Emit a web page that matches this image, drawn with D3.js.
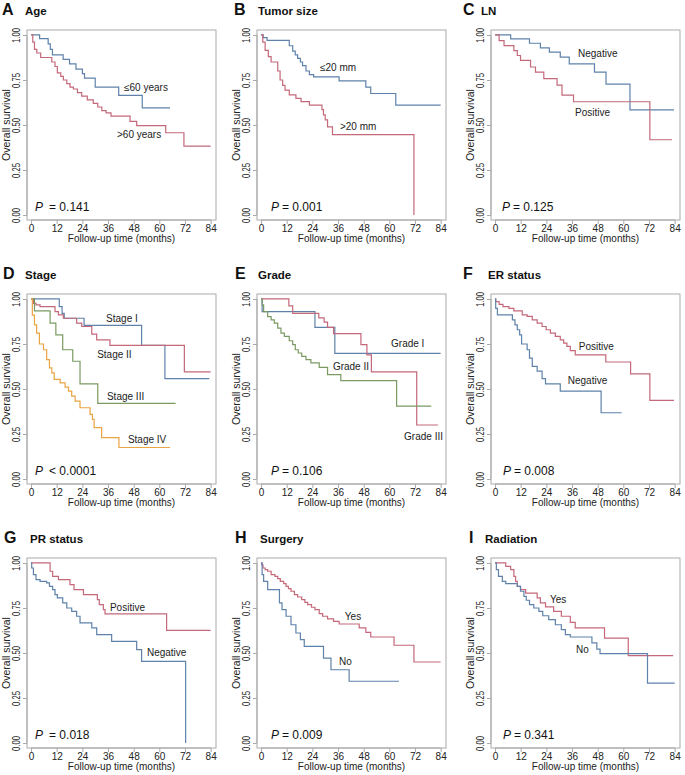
<!DOCTYPE html>
<html><head><meta charset="utf-8">
<script src="https://cdn.jsdelivr.net/npm/d3@7"></script>
<style>
body{margin:0;background:#fff;}
text{font-family:"Liberation Sans",Arial,sans-serif;}
</style></head>
<body><svg id="c" width="685" height="775"></svg>
<script>
// ---------- data ----------
const xTicks = [0,12,24,36,48,60,72,84];
const yTicks = [0,0.25,0.5,0.75,1];
const yTickLabels = ["0.00","0.25","0.50","0.75","1.00"];
const panelLetters = ["A","B","C","D","E","F","G","H","I"];
const panelTitles = ["Age","Tumor size","LN","Stage","Grade","ER status","PR status","Surgery","Radiation"];
const pValues = ["0.141","0.001","0.125","0.0001","0.106","0.008","0.018","0.009","0.341"];
const pOps = ["=","=","=","<","=","=","=","=","="];

// step survival curves: [time, survival from that time]
const ageLe60 = [[0,1],[4,0.98],[8,0.95],[9,0.92],[10,0.89],[15,0.865],[18,0.84],[21,0.81],[24,0.785],[25,0.76],[30,0.71],[41,0.665],[52,0.595]];
const ageGt60 = [[0,1],[0.8,0.96],[1.6,0.92],[2.7,0.90],[4.5,0.875],[9.7,0.85],[11.2,0.825],[12.3,0.79],[13.9,0.77],[15.1,0.75],[16.7,0.73],[18.2,0.71],[19.8,0.70],[21.7,0.68],[23.7,0.66],[26.3,0.64],[29.1,0.62],[31.2,0.60],[33.1,0.58],[35.1,0.567],[37.4,0.549],[46.3,0.52],[49.4,0.497],[63,0.457],[71.5,0.383]];
const sizeLe20 = [[0,1],[1,0.985],[2.8,0.97],[13.2,0.94],[14.8,0.91],[16,0.89],[17.1,0.87],[18.4,0.85],[19.4,0.83],[21,0.80],[22.6,0.78],[24.6,0.767],[36.5,0.745],[49,0.71],[51.3,0.675],[63,0.61]];
const sizeGt20 = [[0,1],[0.8,0.96],[1.9,0.915],[3.4,0.88],[4.7,0.85],[7.8,0.80],[8.9,0.75],[10.1,0.72],[11.2,0.694],[13.2,0.667],[16.3,0.648],[18.7,0.63],[22.6,0.61],[28.5,0.585],[29.2,0.556],[30,0.528],[31.1,0.49],[33.4,0.446],[71.5,0]];
const lnNeg = [[0,1],[7.3,0.978],[16.1,0.954],[21.2,0.928],[25.4,0.905],[30.5,0.877],[34.7,0.84],[46.5,0.794],[51.9,0.727],[63.1,0.584]];
const lnPos = [[0,1],[1.9,0.969],[4.2,0.941],[8.8,0.913],[10.4,0.886],[11.9,0.859],[16.6,0.822],[18.9,0.794],[22.8,0.758],[29,0.721],[31.3,0.666],[36.7,0.629],[72.4,0.418]];
const stageI = [[0,1],[13.2,0.958],[14.5,0.92],[15.5,0.893],[24.8,0.853],[51.7,0.742],[62.6,0.558]];
const stageII = [[0,1],[1.1,0.976],[2.3,0.967],[4.2,0.958],[11.2,0.93],[12.8,0.912],[15.1,0.893],[21.3,0.866],[23.7,0.847],[28.4,0.805],[30.7,0.773],[36.9,0.742],[71.7,0.595]];
const stageIII = [[0,1],[1.6,0.934],[8.9,0.866],[11.6,0.801],[14.8,0.718],[19.5,0.654],[22.9,0.529],[31.2,0.42]];
const stageIV = [[0,1],[0.6,0.91],[1.6,0.856],[2.6,0.81],[3.9,0.75],[5.8,0.718],[7.3,0.663],[8.6,0.617],[9.7,0.59],[10.8,0.553],[13.6,0.534],[15.9,0.51],[17.5,0.488],[19,0.46],[20.6,0.433],[22.9,0.396],[27.6,0.359],[28.7,0.331],[29.5,0.285],[33,0.23],[41.1,0.175]];
const gradeI = [[0,1],[0.5,0.93],[25.2,0.842],[34.5,0.698]];
const gradeII = [[0,1],[13,0.962],[14.8,0.92],[27,0.895],[29.5,0.871],[31.1,0.842],[33.9,0.808],[46.7,0.746],[49.5,0.69],[51.6,0.595],[72.8,0.30]];
const gradeIII = [[0,1],[0.5,0.967],[1.2,0.93],[3.1,0.902],[4.7,0.884],[6.2,0.866],[7.8,0.838],[9.3,0.81],[10.9,0.792],[13.2,0.768],[14.8,0.746],[16,0.718],[17.4,0.70],[19,0.681],[21,0.663],[23.3,0.645],[27.2,0.62],[31.1,0.58],[37.3,0.547],[63.4,0.405]];
const erPos = [[0,1],[0.3,0.985],[1.9,0.97],[3.7,0.958],[6.5,0.948],[8.8,0.934],[12.7,0.912],[15,0.903],[17.4,0.884],[19.7,0.866],[22,0.847],[23.9,0.829],[25.9,0.81],[28.2,0.792],[30.5,0.773],[32.1,0.755],[33.6,0.737],[35.2,0.713],[37.5,0.69],[51.8,0.65],[63.4,0.584],[72.4,0.437]];
const erNeg = [[0,1],[0.3,0.948],[1.1,0.912],[8.1,0.884],[9.3,0.856],[10.4,0.829],[11.5,0.801],[12.4,0.75],[15,0.718],[16.1,0.672],[17.4,0.626],[19.7,0.599],[22,0.558],[23.6,0.529],[30.5,0.488],[49.6,0.368]];
const prPos = [[0,1],[8.9,0.954],[10.1,0.926],[12.8,0.907],[18.2,0.88],[20.1,0.852],[24.5,0.824],[31,0.796],[31.9,0.769],[33.8,0.741],[34.6,0.717],[63.4,0.626]];
const prNeg = [[0,1],[0.3,0.972],[1.1,0.935],[2.3,0.907],[4.2,0.898],[7.3,0.889],[8.6,0.87],[10.1,0.852],[11.2,0.824],[12.3,0.806],[14.8,0.778],[16.7,0.75],[19,0.731],[21.3,0.704],[22.9,0.667],[28.4,0.639],[30.7,0.602],[37.7,0.565],[49.4,0.519],[51.7,0.454],[72.3,0]];
const surgYes = [[0,1],[0.3,0.99],[0.9,0.972],[1.9,0.963],[3.1,0.954],[4.7,0.935],[6.5,0.926],[7.8,0.913],[9,0.898],[10.6,0.885],[11.7,0.87],[12.8,0.857],[14,0.843],[15.6,0.824],[17.1,0.811],[19,0.796],[20.5,0.781],[21.8,0.769],[23.6,0.754],[25.2,0.741],[27.2,0.719],[28.8,0.704],[31.1,0.689],[33.9,0.676],[36.5,0.661],[45.9,0.639],[49,0.615],[51.3,0.589],[62.2,0.543],[71.5,0.45]];
const surgNo = [[0,1],[0.5,0.935],[1.2,0.898],[3.1,0.852],[8.6,0.778],[9.8,0.741],[11.7,0.704],[14,0.657],[16.3,0.611],[18.4,0.574],[20.2,0.537],[29.2,0.472],[32.7,0.407],[41.2,0.343]];
const radYes = [[0,1],[5,0.981],[7.3,0.963],[8.8,0.926],[9.6,0.898],[10.4,0.87],[11.9,0.852],[14.3,0.833],[19.7,0.806],[21.2,0.778],[23.6,0.756],[27.4,0.731],[31,0.704],[35.2,0.67],[37.5,0.639],[51.2,0.583],[62.3,0.485]];
const radNo = [[0,1],[0.6,0.963],[1.6,0.926],[3.4,0.898],[5,0.885],[10.4,0.87],[11.9,0.843],[13.5,0.815],[14.6,0.793],[16.1,0.769],[18.1,0.75],[20.5,0.731],[22.3,0.707],[25.1,0.685],[28.2,0.657],[31,0.63],[32.9,0.602],[35.2,0.589],[45.3,0.556],[47.6,0.522],[49.1,0.496],[71.3,0.333]];

// last follow-up time of each curve
const curveEnds = {ageLe60:65, ageGt60:84, sizeLe20:84, sizeGt20:71.5, lnNeg:83.7, lnPos:82.8,
  stageI:83.4, stageII:84, stageIII:67.6, stageIV:65, gradeI:84, gradeII:82.7, gradeIII:79.6,
  erPos:83.7, erNeg:59.2, prPos:84, prNeg:72.3, surgYes:84, surgNo:64.5, radYes:83.3, radNo:84};

const colors = {blue:"#5f82aa", red:"#c4687a", green:"#7a9a62", orange:"#e9a443"};

const panels = [
  {curves:[["ageLe60",ageLe60,"blue"],["ageGt60",ageGt60,"red"]], labels:[["≤60 years",43.5,0.688],[">60 years",40.2,0.428]], pT:1.85},
  {curves:[["sizeLe20",sizeLe20,"blue"],["sizeGt20",sizeGt20,"red"]], labels:[["≤20 mm",27.6,0.80],[">20 mm",36.9,0.472]], pT:4.65},
  {curves:[["lnNeg",lnNeg,"blue"],["lnPos",lnPos,"red"]], labels:[["Negative",38.8,0.877],["Positive",37.4,0.55]], pT:3.25},
  {curves:[["stageI",stageI,"blue"],["stageII",stageII,"red"],["stageIII",stageIII,"green"],["stageIV",stageIV,"orange"]], labels:[["Stage I",35.1,0.872],["Stage II",30.9,0.672],["Stage III",35.5,0.439],["Stage IV",45.3,0.2]], pT:1.85},
  {curves:[["gradeI",gradeI,"blue"],["gradeII",gradeII,"red"],["gradeIII",gradeIII,"green"]], labels:[["Grade I",60.8,0.733],["Grade II",33.6,0.605],["Grade III",66.9,0.217]], pT:4.65},
  {curves:[["erPos",erPos,"red"],["erNeg",erNeg,"blue"]], labels:[["Positive",39.2,0.716],["Negative",34,0.527]], pT:3.7},
  {curves:[["prPos",prPos,"red"],["prNeg",prNeg,"blue"]], labels:[["Positive",36.9,0.733],["Negative",54.2,0.483]], pT:1.85},
  {curves:[["surgYes",surgYes,"red"],["surgNo",surgNo,"blue"]], labels:[["Yes",39.2,0.683],["No",36.5,0.433]], pT:4.65},
  {curves:[["radYes",radYes,"red"],["radNo",radNo,"blue"]], labels:[["Yes",25.7,0.777],["No",37.9,0.5]], pT:3.7}
];

// ---------- layout ----------
const colLeft = [27,257,491];
const rowTop = [30,294,558];
const boxW = 189, boxH = 190;
const letterX = [[2,234,463],[3,235,463],[4,235,469]];
const titleX = [[25,258,481],[25,258,488],[30,260,485]];

const svg = d3.select("#c");
const gray = "#a9a9a9";

panels.forEach((p,i)=>{
  const r = Math.floor(i/3), c = i%3;
  const L = colLeft[c], T = rowTop[r];
  const x = d3.scaleLinear().domain([-1.9,86.5]).range([L, L+boxW]);
  const y = d3.scaleLinear().domain([-0.0276,1.0276]).range([T+boxH, T]);
  const g = svg.append("g");

  // letter + title
  g.append("text").attr("x",letterX[r][c]).attr("y",T-15).attr("font-size",16).attr("font-weight","bold").attr("fill","#111").text(panelLetters[i]);
  g.append("text").attr("x",titleX[r][c]).attr("y",T-15).attr("font-size",11.5).attr("font-weight","bold").attr("fill","#111").text(panelTitles[i]);

  // box
  g.append("rect").attr("x",L).attr("y",T).attr("width",boxW).attr("height",boxH).attr("fill","none").attr("stroke",gray).attr("stroke-width",1);

  // x axis
  const xa = g.append("g").attr("transform",`translate(0,${T+boxH})`)
    .call(d3.axisBottom(x).tickValues(xTicks).tickSize(4).tickSizeOuter(0).tickPadding(1));
  xa.select(".domain").attr("stroke",gray).attr("d",`M${x(0)},0H${x(84)}`);
  xa.selectAll(".tick line").attr("stroke",gray);
  xa.selectAll(".tick text").attr("font-size",10).attr("fill","#222").attr("font-family","Liberation Sans, Arial, sans-serif");

  // y axis
  const ya = g.append("g").attr("transform",`translate(${L},0)`)
    .call(d3.axisLeft(y).tickValues(yTicks).tickSize(4).tickSizeOuter(0).tickFormat((d,j)=>yTickLabels[j]));
  ya.select(".domain").attr("stroke",gray).attr("d",`M0,${y(0)}V${y(1)}`);
  ya.selectAll(".tick line").attr("stroke",gray);
  ya.selectAll(".tick text").attr("font-size",10).attr("fill","#222").attr("font-family","Liberation Sans, Arial, sans-serif")
    .attr("text-anchor","middle").attr("x",null).attr("dy",null)
    .attr("transform","translate(-10,0) rotate(-90) scale(0.76,1)").attr("dominant-baseline","central");

  // axis titles
  g.append("text").attr("x",L+boxW/2).attr("y",T+boxH+22).attr("text-anchor","middle").attr("font-size",10).attr("fill","#222").text("Follow-up time (months)");
  g.append("text").attr("transform",`translate(${L-21},${T+boxH/2}) rotate(-90)`).attr("text-anchor","middle").attr("font-size",10.5).attr("fill","#222").attr("dominant-baseline","central").text("Overall survival");

  // curves
  const line = d3.line().x(d=>x(d[0])).y(d=>y(d[1])).curve(d3.curveStepAfter);
  p.curves.forEach(([name,data,col])=>{
    const pts = data.concat([[curveEnds[name], data[data.length-1][1]]]);
    g.append("path").attr("d",line(pts)).attr("fill","none").attr("stroke",colors[col]).attr("stroke-width",1.2);
  });

  // curve labels
  p.labels.forEach(([t,lt,ls])=>{
    g.append("text").attr("x",x(lt)).attr("y",y(ls)).attr("font-size",10).attr("fill","#222").text(t);
  });

  // P value
  const pt = g.append("text").attr("x",x(p.pT)).attr("y",y(0.025)).attr("font-size",12).attr("fill","#111");
  pt.append("tspan").attr("font-style","italic").text("P");
  pt.append("tspan").attr("dx", (c===0)?6:3).text(pOps[i]+" "+pValues[i]);
});
</script></body></html>
